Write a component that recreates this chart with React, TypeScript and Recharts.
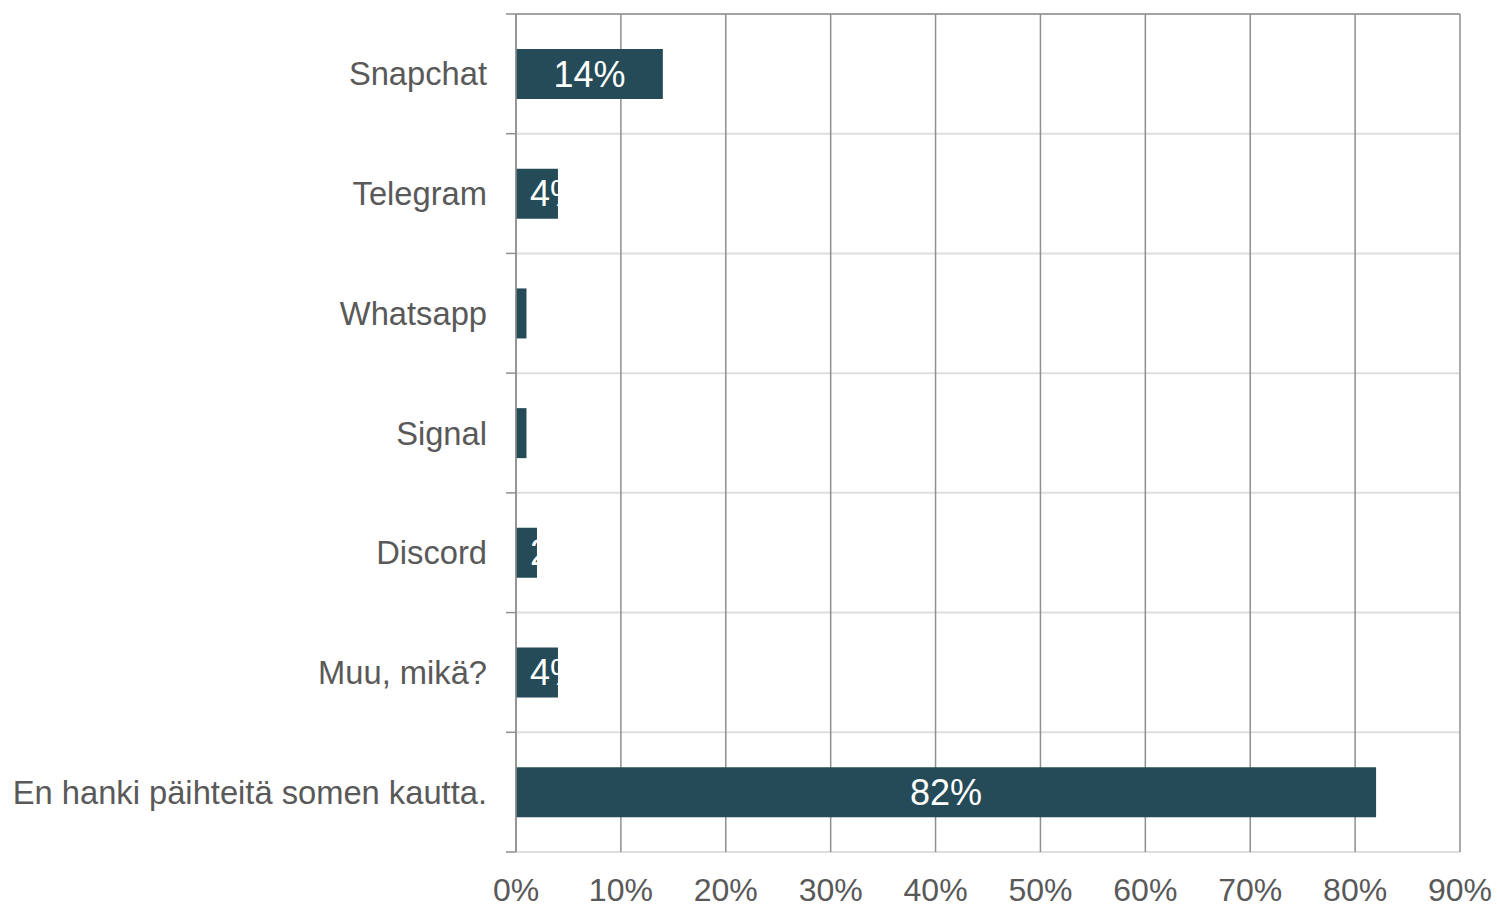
import { Bar, BarChart, CartesianGrid, LabelList, XAxis, YAxis } from 'recharts';

const categories = [
  'Snapchat',
  'Telegram',
  'Whatsapp',
  'Signal',
  'Discord',
  'Muu, mikä?',
  'En hanki päihteitä somen kautta.',
];
const shares = [14, 4, 1, 1, 2, 4, 82];
const xTicks = [0, 10, 20, 30, 40, 50, 60, 70, 80, 90];

const data = categories.map((name, i) => ({ name, share: shares[i] }));

const BAR = '#244b57';
const TEXT = '#595959';
const DARK = '#8f8f8f';
const LIGHT = '#dedede';
const TICK_GAP = 29;

// category label plus the small tick marks on the band edges
function CategoryTick(props: any) {
  const { x, y, payload, index } = props;
  const half = payload.offset || 0;
  const axisX = x + TICK_GAP;
  const last = index === categories.length - 1;
  return (
    <g>
      <line x1={axisX - 10} x2={axisX} y1={y - half} y2={y - half} stroke={DARK} strokeWidth={1.5} />
      {last && (
        <line x1={axisX - 10} x2={axisX} y1={y + half} y2={y + half} stroke={DARK} strokeWidth={1.5} />
      )}
      <text x={x} y={y} textAnchor="end" dominantBaseline="central" fill={TEXT} fontSize={32.7}>
        {payload.value}
      </text>
    </g>
  );
}

// value label: centred when it fits, otherwise starts near the bar's left edge and gets clipped
function BarValueLabel(props: any) {
  const { x, y, width, height, value, index } = props;
  const text = `${value}%`;
  const fits = width >= text.length * 36 * 0.6 + 10;
  const id = `bar-clip-${index}`;
  return (
    <g>
      <defs>
        <clipPath id={id}>
          <rect x={x} y={y} width={width} height={height} />
        </clipPath>
      </defs>
      <text
        x={fits ? x + width / 2 : x + 14}
        y={y + height / 2}
        textAnchor={fits ? 'middle' : 'start'}
        dominantBaseline="central"
        fill="#fff"
        fontSize={36}
        clipPath={`url(#${id})`}
      >
        {text}
      </text>
    </g>
  );
}

export default function App() {
  return (
    <div style={{ position: 'absolute', left: 0, top: 0 }}>
      <BarChart
        width={1497}
        height={908}
        data={data}
        layout="vertical"
        margin={{ top: 4, right: 37, bottom: 0, left: 0 }}
        style={{ fontFamily: '"Liberation Sans", Arial, sans-serif' }}
      >
        <CartesianGrid
          xAxisId="bottom"
          stroke={LIGHT}
          strokeWidth={2}
          vertical={false}
          horizontalCoordinatesGenerator={({ offset }: any) =>
            categories
              .map((_, i) => i)
              .concat(categories.length)
              .map((i) => offset.top + (offset.height * i) / categories.length)
          }
        />
        <CartesianGrid xAxisId="bottom" stroke={DARK} strokeWidth={1.5} horizontal={false} />
        <YAxis
          type="category"
          dataKey="name"
          width={516}
          axisLine={{ stroke: DARK, strokeWidth: 1.5 }}
          tickLine={false}
          tickSize={0}
          tickMargin={TICK_GAP}
          tick={<CategoryTick />}
        />
        <XAxis
          xAxisId="top"
          orientation="top"
          type="number"
          domain={[0, 90]}
          ticks={xTicks}
          height={10}
          tickSize={10}
          tickFormatter={() => ''}
          axisLine={{ stroke: DARK, strokeWidth: 1.5 }}
          tickLine={{ stroke: DARK, strokeWidth: 1.5 }}
        />
        <XAxis
          xAxisId="bottom"
          type="number"
          domain={[0, 90]}
          ticks={xTicks}
          height={56}
          axisLine={false}
          tickLine={false}
          tickSize={0}
          tickMargin={26}
          tickFormatter={(v: number) => `${v}%`}
          tick={{ fill: TEXT, fontSize: 32 }}
        />
        <Bar dataKey="share" xAxisId="bottom" fill={BAR} barSize={50} isAnimationActive={false}>
          <LabelList dataKey="share" content={<BarValueLabel />} />
        </Bar>
      </BarChart>
    </div>
  );
}
